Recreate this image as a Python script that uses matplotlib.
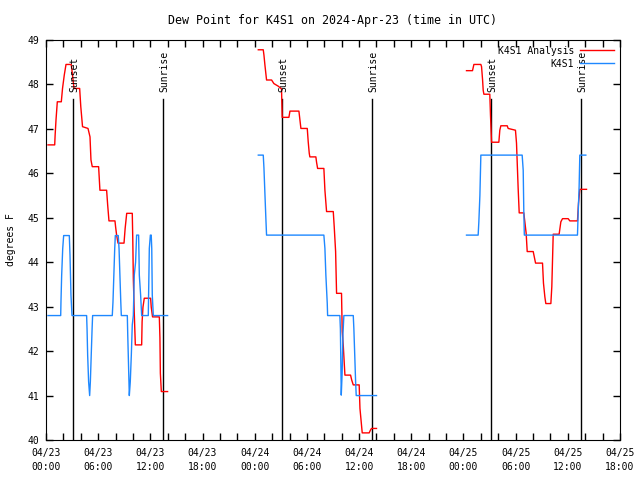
import numpy as np
import matplotlib
matplotlib.use("Agg")
import matplotlib.pyplot as plt

# hours since 04/23 00:00 UTC ; nan splits the gaps
analysis_hours = [0.23, 1.0, 1.05, 1.15, 1.3, 1.76, 1.9, 2.1, 2.3, 2.9, 3.0, 3.22, 3.87, 4.0, 4.2, 4.83,
                  5.06, 5.17, 5.32, 6.05, 6.2, 6.97, 7.09, 7.24, 7.93, 8.0, 8.12, 8.28, 8.97, 9.1, 9.28, 9.92,
                  9.98, 10.04, 10.15, 10.27, 11.0, 11.05, 11.15, 11.3, 12.03, 12.1, 12.25, 13.03, 13.1, 13.15,
                  13.26, 13.98,
                  np.nan,
                  24.41, 24.98, 25.06, 25.17, 25.36, 25.94, 26.2, 26.71, 27.08, 27.16, 27.93, 28.05, 28.24,
                  29.08, 29.2, 29.31, 30.04, 30.15, 30.27, 30.34, 31.03, 31.11, 31.23, 31.95, 32.07, 32.26,
                  33.03, 33.14, 33.3, 33.41, 33.98, 34.06, 34.18, 34.37, 35.02, 35.15, 35.33, 36.01, 36.1,
                  36.25, 36.36, 37.16, 37.3, 37.43, 38.0,
                  np.nan,
                  48.35, 49.04, 49.2, 50.0, 50.08, 50.2, 50.27, 50.35, 51.03, 51.11, 51.23, 51.3, 52.07,
                  52.18, 52.3, 53.03, 53.14, 53.98, 54.1, 54.21, 54.29, 54.41, 54.87, 54.94, 55.06, 55.21,
                  55.33, 56.02, 56.13, 56.29, 56.41, 57.09, 57.2, 57.36, 57.47, 58.05, 58.16, 58.32, 59.0,
                  59.2, 59.39, 60.04, 60.23, 61.11, 61.23, 61.38, 62.15]
analysis_dewpt = [46.64, 46.64, 46.86, 47.2, 47.61, 47.61, 47.91, 48.21, 48.45, 48.45, 48.29, 47.91, 47.91, 47.5, 47.05, 47.01,
                  46.82, 46.3, 46.15, 46.15, 45.62, 45.62, 45.29, 44.93, 44.93, 44.8, 44.61, 44.43, 44.43, 44.76, 45.1, 45.1,
                  44.5, 43.64, 42.86, 42.14, 42.14, 42.66, 42.99, 43.19, 43.19, 42.99, 42.77, 42.77, 42.3, 41.5,
                  41.09, 41.09,
                  np.nan,
                  48.78, 48.78, 48.66, 48.44, 48.1, 48.1, 48.02, 47.96, 47.9, 47.26, 47.26, 47.4, 47.4,
                  47.4, 47.2, 47.01, 47.01, 46.71, 46.45, 46.37, 46.37, 46.25, 46.11, 46.11, 45.62, 45.14,
                  45.14, 44.8, 44.24, 43.3, 43.3, 42.44, 42.13, 41.46, 41.46, 41.35, 41.24, 41.24, 40.71,
                  40.4, 40.16, 40.16, 40.22, 40.26, 40.26,
                  np.nan,
                  48.31, 48.31, 48.45, 48.45, 48.4, 48.1, 47.87, 47.78, 47.78, 47.3, 46.7, 46.7, 46.7,
                  46.97, 47.07, 47.07, 47.01, 46.97, 46.68, 46.07, 45.66, 45.11, 45.11, 45.11, 44.91, 44.65,
                  44.24, 44.24, 44.13, 43.98, 43.98, 43.98, 43.53, 43.22, 43.07, 43.07, 43.45, 44.63, 44.63,
                  44.91, 44.98, 44.98, 44.93, 44.93, 45.33, 45.64, 45.64]

obs_hours = [0.23, 1.69, 1.72, 1.8, 1.92, 2.03, 2.68, 2.76, 2.87, 2.99, 4.67, 4.72, 4.79, 4.9, 5.02, 5.1, 5.2,
             5.3, 5.36, 7.62, 7.7, 7.8, 7.9, 7.97, 8.31, 8.4, 8.5, 8.6, 8.66, 9.35, 9.4, 9.46, 9.58, 9.69,
             9.81, 9.92, 10.04, 10.15, 10.3, 10.42, 10.65, 10.73, 10.88, 11.0, 11.76, 11.88, 12.0, 12.1,
             12.16, 12.22, 12.34, 13.98,
             np.nan,
             24.41, 24.98, 25.06, 25.17, 25.29, 25.36, 31.95, 32.07, 32.18, 32.34, 32.38, 33.79, 33.85,
             33.95, 34.05, 34.15, 34.25, 35.33, 35.4, 35.5, 35.6, 35.67, 38.0,
             np.nan,
             48.35, 49.69, 49.77, 49.89, 50.0, 54.75, 54.87, 54.94, 55.0, 61.11, 61.19, 61.3, 61.38, 62.07]
obs_dewpt = [42.8, 42.8, 43.1, 43.7, 44.3, 44.6, 44.6, 44.16, 43.26, 42.8, 42.8, 42.5, 41.91, 41.31, 41.0, 41.31, 41.91,
             42.5, 42.8, 42.8, 43.1, 43.7, 44.3, 44.6, 44.6, 44.3, 43.7, 43.1, 42.8, 42.8, 42.36, 41.91, 41.0, 41.31,
             41.91, 42.59, 42.8, 43.71, 44.0, 44.61, 44.61, 43.71, 43.26, 42.8, 42.8, 44.31, 44.61, 44.61,
             44.31, 43.26, 42.8, 42.8,
             np.nan,
             46.41, 46.41, 46.12, 45.55, 44.94, 44.61, 44.61, 44.31, 43.71, 43.07, 42.8, 42.8, 42.5,
             41.01, 41.5, 42.4, 42.8, 42.8, 42.5, 41.91, 41.31, 41.0, 41.0,
             np.nan,
             44.61, 44.61, 44.91, 45.5, 46.41, 46.41, 46.07, 45.14, 44.61, 44.61, 45.1, 45.7, 46.41, 46.41]

sunset_hours = [3.14, 27.16, 51.15]
sunrise_hours = [13.48, 37.5, 61.57]
tick_labels = ['04/23\n00:00', '04/23\n06:00', '04/23\n12:00', '04/23\n18:00',
               '04/24\n00:00', '04/24\n06:00', '04/24\n12:00', '04/24\n18:00',
               '04/25\n00:00', '04/25\n06:00', '04/25\n12:00', '04/25\n18:00']

plt.rcParams['font.family'] = ['DejaVu Sans Mono']
plt.rcParams['font.size'] = 7

fig = plt.figure(figsize=(6.4, 4.8), dpi=100)
ax = fig.add_axes([46/640, 40/480, 574/640, 400/480])

for h in sunset_hours:
    ax.plot([h, h], [40, 47.67], color='black', lw=1)
    ax.text(h + 0.15, 47.83, 'Sunset', rotation=90, ha='center', va='bottom', fontsize=7)
for h in sunrise_hours:
    ax.plot([h, h], [40, 47.67], color='black', lw=1)
    ax.text(h + 0.15, 47.83, 'Sunrise', rotation=90, ha='center', va='bottom', fontsize=7)

ax.plot(analysis_hours, analysis_dewpt, color='#ff0000', lw=1, label='K4S1 Analysis')
ax.plot(obs_hours, obs_dewpt, color='#1e88ff', lw=1, label='K4S1')

ax.set_xlim(0, 66)
ax.set_ylim(40, 49)
ax.set_xticks(np.arange(0, 67, 6))
ax.set_xticklabels(tick_labels, linespacing=1.4)
ax.set_xticks(np.arange(0, 67, 2), minor=True)
ax.set_yticks(np.arange(40, 50, 1))
ax.tick_params(direction='in', top=True, right=True, length=5, width=1, pad=6)
ax.tick_params(axis='y', pad=5)
ax.tick_params(which='minor', direction='in', top=True, length=5, width=1)
ax.set_ylabel('degrees F')
ax.yaxis.set_label_coords(-0.052, 0.5)
ax.set_title('Dew Point for K4S1 on 2024-Apr-23 (time in UTC)', pad=11.5)

leg = ax.legend(loc='upper right', frameon=False, markerfirst=False, handlelength=3.5,
                borderaxespad=0.2, labelspacing=0.3, handletextpad=0.6)
for t in leg.get_texts():
    t.set_ha('right')

fig.savefig('out.png', dpi=100)
